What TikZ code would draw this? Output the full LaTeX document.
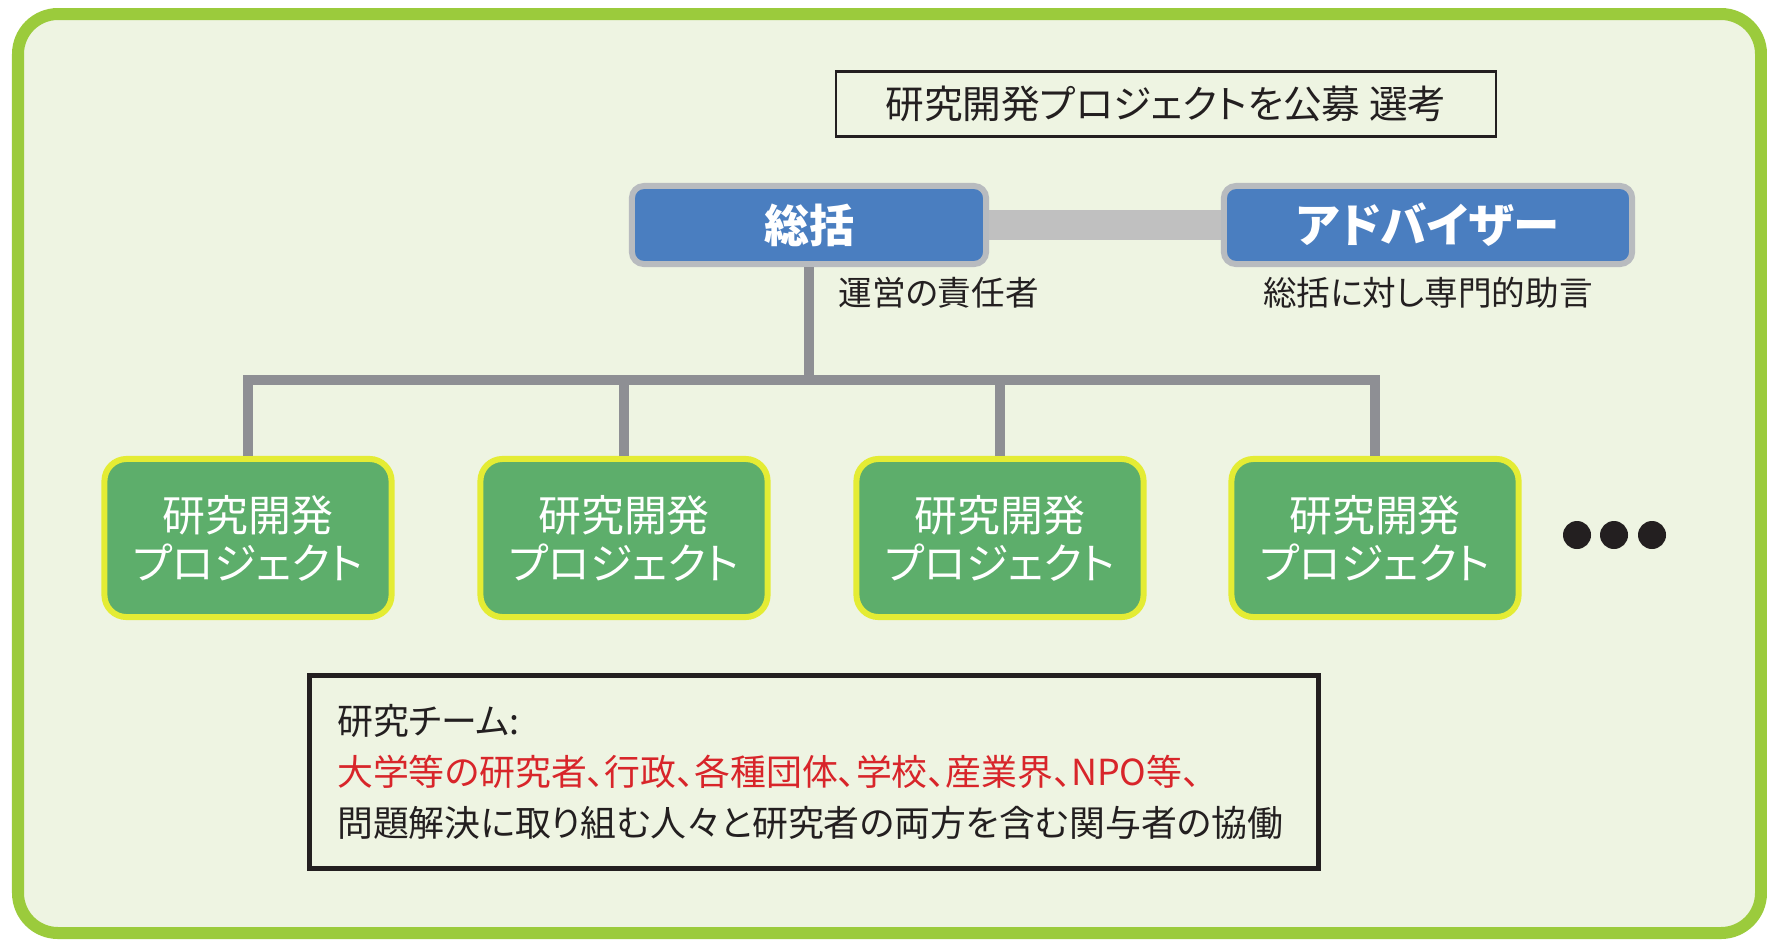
\documentclass[tikz,border=0pt]{standalone}
\usepackage{fontspec}
\setmainfont{Noto Sans CJK JP}[RawFeature=+palt]
\usetikzlibrary{positioning}

\definecolor{bgfill}{HTML}{EEF4E2}
\definecolor{framegreen}{HTML}{9BCB3C}
\definecolor{headblue}{HTML}{4A7EC0}
\definecolor{headrim}{HTML}{B8BBBF}
\definecolor{bargray}{HTML}{C0C0C0}
\definecolor{treegray}{HTML}{8E8F94}
\definecolor{projgreen}{HTML}{5DAE6B}
\definecolor{projrim}{HTML}{E4EC34}
\definecolor{teamred}{HTML}{D8252A}
\definecolor{inkblack}{HTML}{231F20}

\tikzset{
	headbox/.style={draw=headrim,line width=0.06cm,fill=headblue,rounded corners=0.12cm,
		minimum height=0.78cm,text=white,font=\fontsize{12.8}{14}\selectfont\bfseries},
	projbox/.style={draw=projrim,line width=0.06cm,fill=projgreen,rounded corners=0.22cm,
		minimum width=2.87cm,minimum height=1.58cm,align=center,text=white,
		font=\fontsize{12.2}{13.6}\selectfont},
	treeline/.style={draw=treegray,line width=0.1cm},
	sublabel/.style={text=inkblack,font=\fontsize{9.55}{11}\selectfont},
}

\begin{document}
\begin{tikzpicture}[x=0.01cm,y=-0.01cm]
			\useasboundingbox (0,0) rectangle (1767,939);
			\draw[framegreen,fill=bgfill,line width=0.12cm,rounded corners=0.4cm] (18,14) rectangle (1761,933);

			\node (koubo) [draw=inkblack,line width=0.6pt,minimum width=6.59cm,minimum height=0.65cm,
				text=inkblack,font=\fontsize{11}{12}\selectfont] at (1166,104) {研究開発プロジェクトを公募 選考};

			\node (soukatsu) [headbox,minimum width=3.54cm] at (809,225) {総括};
			\node (adviser) [headbox,minimum width=4.08cm,font=\fontsize{13.2}{14}\selectfont\bfseries] at (1428,225) {アドバイザー};
			\draw[bargray,line width=0.29cm] (soukatsu) -- (adviser);

			\node (unei) [sublabel,anchor=west] at (826,293) {運営の責任者};
			\node (jogen) [sublabel] at (1428,293) {総括に対し専門的助言};

			\coordinate (hub) at (809,380);
			\draw[treeline] (soukatsu.south) -- (hub);
			\foreach \i/\x in {1/248,2/624,3/1000,4/1375}{
				\node (proj\i) [projbox] at (\x,538) {研究開発\\プロジェクト};
				\draw[treeline] (hub) -| (proj\i.north);
			}

			\foreach \x in {1577,1614,1652}
				\fill[inkblack] (\x,535) circle (0.14cm);

			\node (team) [draw=inkblack,line width=0.05cm,text width=9.53cm,inner xsep=0.275cm,
				minimum height=1.93cm,align=left,text=inkblack,font=\fontsize{10.2}{14.5}\selectfont]
				at (814,772) {研究チーム:\\
				\textcolor{teamred}{大学等の研究者、行政、各種団体、学校、産業界、NPO等、}\\
				問題解決に取り組む人々と研究者の両方を含む関与者の協働};
		\end{tikzpicture}
\end{document}
